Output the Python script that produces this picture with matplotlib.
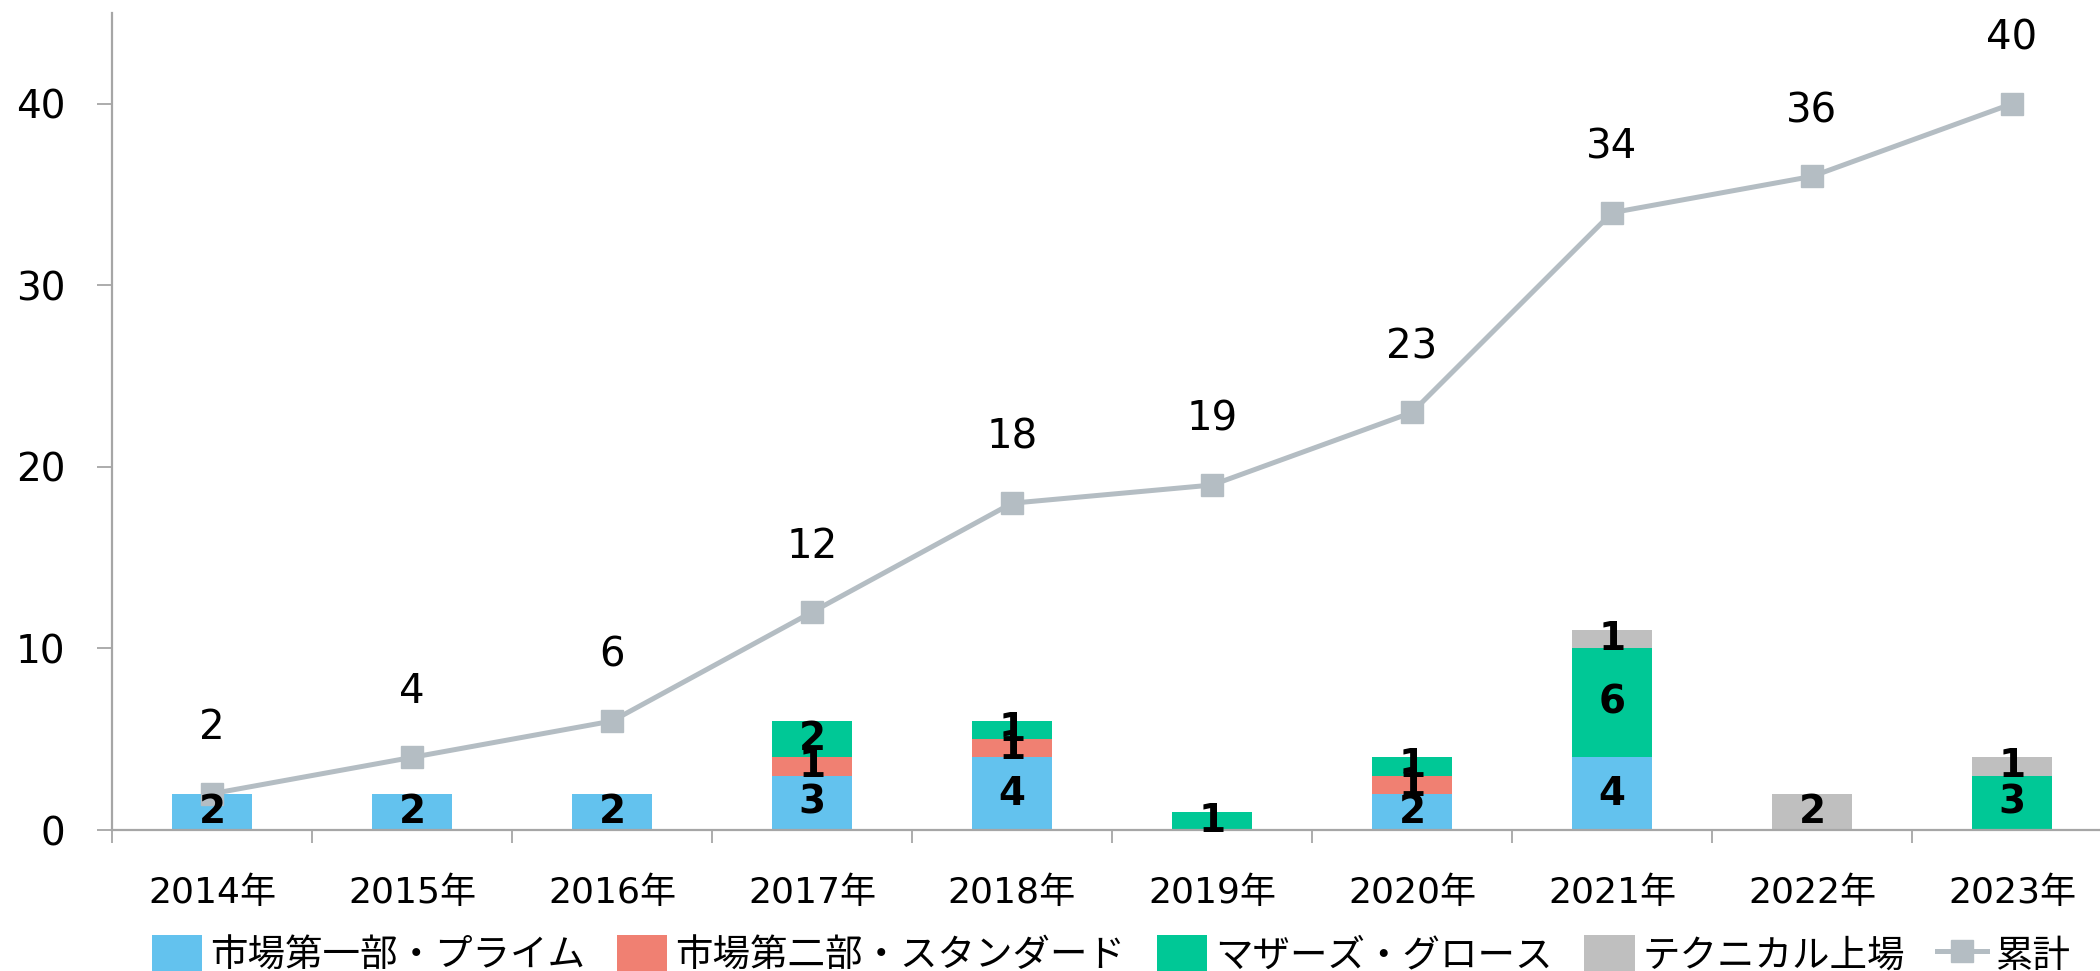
import numpy as np
import matplotlib
matplotlib.use("Agg")
import matplotlib.pyplot as plt
from matplotlib.patches import Patch
from matplotlib.lines import Line2D

plt.rcParams['font.family'] = ['DejaVu Sans', 'Noto Sans CJK JP']

# data ----------------------------------------------------------------
years = ['2014年', '2015年', '2016年', '2017年', '2018年',
         '2019年', '2020年', '2021年', '2022年', '2023年']
prime = [2, 2, 2, 3, 4, 0, 2, 4, 0, 0]
standard = [0, 0, 0, 1, 1, 0, 1, 0, 0, 0]
growth = [0, 0, 0, 2, 1, 1, 1, 6, 0, 3]
technical = [0, 0, 0, 0, 0, 0, 0, 1, 2, 1]
cumulative = [2, 4, 6, 12, 18, 19, 23, 34, 36, 40]

series_names = ['市場第一部・プライム', '市場第二部・スタンダード', 'マザーズ・グロース', 'テクニカル上場']
series_colors = ['#63C2EE', '#F08072', '#00C896', '#BFBFBF']
line_name = '累計'
line_color = '#B4BDC3'
axis_gray = '#A6A6A6'

W, H = 2100, 971
fig = plt.figure(figsize=(W / 100, H / 100), dpi=100)
ax = fig.add_axes([112 / W, (H - 830) / H, 2000 / W, 817 / H])

x = np.arange(len(years))
bottom = np.zeros(len(years))
for vals, color in zip([prime, standard, growth, technical], series_colors):
    vals = np.array(vals, dtype=float)
    ax.bar(x, vals, width=0.4, bottom=bottom, color=color, zorder=2)
    for xi, v, b in zip(x, vals, bottom):
        if v > 0:
            ax.text(xi, b + v / 2, str(int(v)), ha='center', va='center',
                    fontsize=28, fontweight='bold', color='black', zorder=4)
    bottom += vals

ax.plot(x, cumulative, color=line_color, lw=3.6, marker='s', markersize=16.5,
        zorder=3)
for xi, v in zip(x, cumulative):
    ax.annotate(str(v), (xi, v), xytext=(0, 47), textcoords='offset points',
                ha='center', va='center', fontsize=29, color='black')

ax.set_xlim(-0.5, len(years) - 0.5)
ax.set_ylim(0, 45)
ax.set_yticks([0, 10, 20, 30, 40])
ax.set_xticks(x)
ax.set_xticklabels(years)
ax.set_xticks(np.arange(-0.5, len(years)), minor=True)
ax.tick_params(axis='x', which='major', length=0, pad=33, labelsize=26)
ax.tick_params(axis='x', which='minor', length=9.5, width=1.3, color=axis_gray)
ax.tick_params(axis='y', length=10.5, width=1.3, color=axis_gray, pad=23,
               labelsize=28)
for s in ['top', 'right']:
    ax.spines[s].set_visible(False)
for s in ['left', 'bottom']:
    ax.spines[s].set_color(axis_gray)
    ax.spines[s].set_linewidth(1.6)

handles = [Patch(facecolor=c) for c in series_colors]
handles.append(Line2D([0], [0], color=line_color, lw=3.6, marker='s', markersize=16.5))
fig.legend(handles, series_names + [line_name], loc='center',
           bbox_to_anchor=(0.529, 0.016), ncol=5, frameon=False,
           prop={'family': ['Noto Sans CJK JP'], 'size': 27},
           handlelength=1.35, handleheight=1.2, handletextpad=0.2,
           columnspacing=0.85, borderpad=0, borderaxespad=0)

fig.savefig('out.png', dpi=100)
